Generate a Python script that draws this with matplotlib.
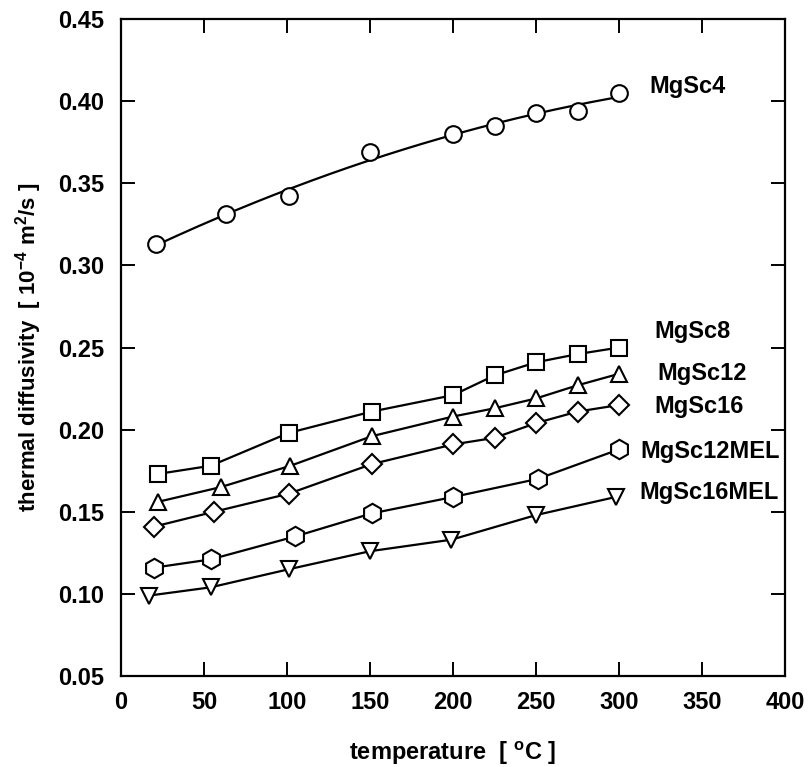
import numpy as np
import matplotlib
matplotlib.use('Agg')
import matplotlib.pyplot as plt

plt.rcParams['font.family'] = ['Liberation Sans', 'DejaVu Sans']
plt.rcParams['font.weight'] = 'bold'
plt.rcParams['axes.labelweight'] = 'bold'
plt.rcParams['mathtext.fontset'] = 'custom'
plt.rcParams['mathtext.rm'] = 'Liberation Sans:bold'

# thermal diffusivity in 1e-4 m^2/s vs temperature in C
t4 = [21, 63, 101, 150, 200, 225, 250, 275, 300]
mgsc4 = [0.313, 0.331, 0.342, 0.369, 0.380, 0.385, 0.393, 0.394, 0.405]

t8 = [22, 54, 101, 151, 200, 225, 250, 275, 300]
mgsc8 = [0.173, 0.178, 0.198, 0.211, 0.221, 0.233, 0.241, 0.246, 0.250]

t12 = [22, 60, 102, 151, 200, 225, 250, 275, 300]
mgsc12 = [0.156, 0.165, 0.178, 0.196, 0.208, 0.213, 0.219, 0.227, 0.234]

t16 = [20, 56, 101, 151, 200, 225, 250, 275, 300]
mgsc16 = [0.141, 0.150, 0.161, 0.179, 0.191, 0.195, 0.204, 0.211, 0.215]

t12mel = [20, 54, 105, 151, 200, 251, 300]
mgsc12mel = [0.116, 0.121, 0.135, 0.149, 0.159, 0.170, 0.188]

t16mel = [17, 54, 101, 150, 199, 250, 298]
mgsc16mel = [0.099, 0.104, 0.115, 0.126, 0.133, 0.148, 0.159]

names = ['MgSc4', 'MgSc8', 'MgSc12', 'MgSc16', 'MgSc12MEL', 'MgSc16MEL']
label_x = [318, 321, 323, 321, 313, 312]
label_y = [0.409, 0.260, 0.234, 0.214, 0.1865, 0.1615]

fig = plt.figure(figsize=(8.1, 7.67), dpi=100)
ax = fig.add_axes([0.1494, 0.1186, 0.8198, 0.8566])

mk = dict(ms=12, mfc='white', mec='black', mew=1.5, zorder=3)

# MgSc4 gets a smooth quadratic fit through its points
c = np.polyfit(t4, mgsc4, 2)
xs = np.linspace(t4[0], t4[-1], 200)
ax.plot(xs, np.polyval(c, xs), color='black', lw=1.6, zorder=2)
ax.plot(t4, mgsc4, 'o', **mk)

ax.plot(t8, mgsc8, '-s', color='black', lw=1.6, **mk)
ax.plot(t12, mgsc12, '-^', color='black', lw=1.6, **mk)
ax.plot(t16, mgsc16, '-D', color='black', lw=1.6, ms=10.5, mfc='white', mec='black', mew=1.5, zorder=3)
ax.plot(t12mel, mgsc12mel, '-h', color='black', lw=1.6, ms=14, mfc='white', mec='black', mew=1.5, zorder=3)
ax.plot(t16mel, mgsc16mel, '-v', color='black', lw=1.6, **mk)

for n, lx, ly in zip(names, label_x, label_y):
    ax.text(lx, ly, n, fontsize=17, va='center', ha='left')

ax.set_xlim(0, 400)
ax.set_ylim(0.05, 0.45)
ax.set_xticks(np.arange(0, 401, 50))
ax.set_yticks(np.arange(0.05, 0.451, 0.05))
ax.set_yticklabels(['%.2f' % v for v in np.arange(0.05, 0.451, 0.05)])
ax.tick_params(direction='in', length=10, width=1.4, top=True, right=True, labelsize=17, pad=11)
ax.tick_params(axis='y', pad=12)
for s in ax.spines.values():
    s.set_linewidth(1.6)

ax.set_xlabel('temperature  [ $^{\\rm o}$C ]', fontsize=17, labelpad=18)
ax.set_ylabel('thermal diffusivity  [ 10$^{-4}$ m$^2$/s ]', fontsize=16, labelpad=10)

fig.savefig('out.png', dpi=100)
